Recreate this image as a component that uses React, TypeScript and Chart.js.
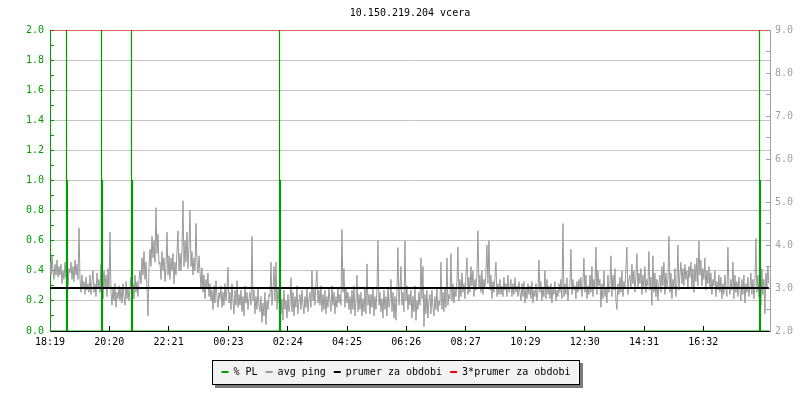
import React, { useEffect, useRef } from "react";
import { Chart, registerables } from "chart.js";

Chart.register(...registerables);

const TITLE = "10.150.219.204 vcera";
const MONO = "'DejaVu Sans Mono', monospace";

// x axis: minutes since 18:19
const X_MAX_MIN = 1469;
const xTickMinutes = [0, 121, 242, 364, 485, 606, 727, 848, 970, 1091, 1212, 1333];
const xTickLabels = ["18:19", "20:20", "22:21", "00:23", "02:24", "04:25", "06:26", "08:27", "10:29", "12:30", "14:31", "16:32"];

// avg ping [ms] (right axis), one sample every SAMPLE_STEP minutes
const SAMPLE_STEP = 2.04;
const avgPing = [
  3.6, 3.3, 3.75, 3.4, 3.2, 3.55, 3.3, 3.65, 3.25, 3.5,
  3.3, 3.55, 3.1, 3.4, 3.2, 3.6, 3.25, 3.5, 3.05, 3.45,
  3.35, 3.6, 3.2, 3.5, 3.15, 3.65, 3.3, 3.55, 3.2, 4.4,
  3.2, 2.9, 3.3, 3.0, 3.15, 2.85, 3.25, 2.95, 3.1, 2.9,
  3.3, 2.85, 3.15, 3.4, 2.9, 3.1, 2.8, 3.35, 3.0, 3.2,
  2.9, 3.55, 3.1, 2.75, 3.4, 3.0, 3.3, 2.8, 3.45, 3.0,
  4.3, 2.9, 2.6, 3.0, 2.7, 3.1, 2.55, 2.9, 2.75, 3.05,
  2.7, 3.0, 2.65, 3.1, 2.8, 2.6, 3.15, 2.75, 3.0, 2.7,
  3.0, 3.25, 2.8, 3.1, 2.75, 3.3, 2.9, 3.15, 2.8, 3.2,
  3.4, 3.1, 3.7, 3.3, 3.85, 3.2, 3.6, 3.0, 2.35, 3.5,
  3.9, 3.5, 4.2, 3.7, 4.1, 3.6, 4.87, 3.8, 4.25, 3.55,
  3.6, 3.2, 3.85, 3.4, 3.7, 3.15, 3.5, 4.3, 3.3, 3.75,
  3.2, 3.7, 3.4, 3.8, 3.1, 3.6, 3.3, 3.85, 4.33, 3.4,
  3.8, 3.4, 3.9, 5.03, 3.5, 4.1, 3.6, 4.3, 3.45, 3.95,
  4.8, 3.5, 3.85, 3.3, 3.7, 3.4, 4.5, 3.6, 3.35, 3.75,
  3.4, 3.0, 3.47, 2.9, 3.3, 2.75, 3.2, 3.0, 3.35, 2.8,
  3.1, 2.7, 2.95, 2.5, 3.05, 2.65, 3.17, 2.8, 2.55, 2.9,
  2.75, 3.05, 2.55, 2.9, 2.6, 3.1, 2.7, 2.95, 3.48, 2.65,
  2.9, 2.5, 3.1, 2.7, 2.4, 2.95, 2.6, 3.17, 2.55, 2.85,
  2.6, 2.95, 2.45, 2.8, 2.35, 3.05, 2.65, 2.9, 2.5, 2.75,
  2.9, 2.6, 4.2, 2.7, 2.95, 2.4, 2.8, 2.5, 3.0, 2.6,
  2.45, 2.8, 2.2, 2.65, 2.35, 2.9, 2.15, 2.7, 2.5, 2.85,
  2.8, 3.6, 2.6, 2.95, 3.5, 2.7, 3.6, 2.5, 3.0, 2.65,
  2.9, 2.4, 2.75, 2.25, 2.95, 2.5, 2.7, 2.3, 2.85, 2.45,
  2.6, 3.24, 2.45, 2.9, 2.35, 2.8, 2.55, 3.05, 2.4, 2.7,
  2.85, 2.5, 2.95, 2.6, 2.4, 2.8, 2.55, 3.0, 2.45, 2.75,
  2.9, 2.55, 3.4, 2.7, 3.0, 2.6, 3.1, 3.4, 2.65, 2.95,
  2.6, 3.05, 2.45, 2.85, 2.5, 2.95, 2.4, 2.8, 2.55, 3.0,
  2.7, 2.45, 3.05, 2.6, 2.9, 2.4, 2.8, 2.55, 3.0, 2.65,
  2.85, 2.6, 4.36, 2.9, 3.45, 2.55, 3.0, 2.65, 2.9, 2.5,
  2.8, 2.4, 2.95, 2.5, 3.05, 2.35, 2.7, 3.3, 2.45, 2.85,
  2.5, 2.9, 2.35, 2.75, 2.45, 3.0, 2.4, 3.56, 2.6, 2.85,
  2.4, 2.85, 2.55, 3.0, 2.35, 2.8, 2.5, 2.95, 4.1, 2.6,
  2.9, 2.45, 2.75, 2.3, 2.95, 2.5, 2.8, 2.35, 3.0, 2.55,
  2.7, 3.2, 2.45, 2.9, 2.3, 2.8, 2.25, 2.95, 3.94, 2.6,
  3.0, 3.5, 2.6, 2.9, 2.45, 4.1, 2.7, 3.05, 2.5, 2.85,
  2.6, 2.95, 2.3, 2.8, 2.45, 3.05, 2.25, 2.7, 2.5, 2.9,
  2.6, 3.7, 2.75, 3.5, 2.1, 2.85, 2.4, 2.95, 2.3, 2.7,
  2.85, 2.4, 2.95, 2.55, 2.35, 2.8, 2.5, 3.0, 2.45, 2.7,
  2.6, 3.6, 2.5, 2.9, 2.45, 3.0, 2.55, 3.7, 2.6, 2.85,
  2.75, 3.8, 2.7, 3.1, 2.65, 3.0, 2.8, 3.15, 3.95, 2.7,
  3.2, 2.8, 3.35, 2.9, 3.1, 2.75, 3.3, 3.7, 2.85, 3.25,
  2.9, 3.5, 3.05, 3.4, 2.8, 3.2, 2.95, 3.35, 4.33, 3.0,
  3.3, 2.9, 3.4, 2.85, 3.2, 3.0, 3.35, 4.0, 3.1, 4.1,
  2.95, 3.3, 2.75, 3.15, 2.9, 3.25, 3.6, 2.8, 3.1, 2.85,
  3.2, 2.85, 3.05, 2.8, 3.25, 2.95, 3.1, 2.8, 3.3, 2.9,
  3.0, 3.2, 2.8, 3.1, 2.85, 3.24, 2.9, 3.05, 2.8, 3.15,
  2.9, 2.7, 3.1, 2.8, 3.15, 2.65, 3.0, 2.75, 3.1, 2.85,
  3.05, 2.75, 3.15, 2.65, 2.95, 2.8, 3.1, 2.7, 2.9, 3.65,
  2.9, 3.15, 2.7, 3.0, 2.8, 3.4, 2.75, 3.2, 2.85, 3.05,
  2.75, 3.1, 2.65, 3.0, 2.85, 3.15, 2.7, 2.95, 2.8, 3.1,
  2.9, 3.2, 2.75, 4.5, 2.8, 3.1, 2.85, 3.24, 2.7, 3.0,
  3.1, 3.9, 2.85, 3.2, 2.95, 3.05, 2.75, 3.15, 2.9, 3.2,
  2.95, 3.25, 2.8, 3.1, 3.7, 2.9, 3.3, 2.75, 3.05, 2.85,
  3.3, 2.9, 3.5, 2.8, 3.2, 3.0, 3.95, 2.85, 3.4, 3.05,
  3.2, 2.55, 3.1, 2.75, 3.4, 2.8, 3.0, 2.65, 3.3, 2.9,
  3.05, 3.75, 2.8, 3.3, 2.95, 3.45, 2.7, 2.5, 3.1, 2.85,
  3.25, 2.9, 3.4, 2.8, 3.15, 3.0, 3.45, 3.95, 2.85, 3.2,
  3.3, 3.0, 3.55, 3.1, 3.4, 2.9, 3.25, 3.8, 3.0, 3.35,
  3.1, 3.45, 2.85, 3.3, 3.0, 3.5, 2.9, 3.2, 3.05, 3.85,
  2.95, 3.25, 2.6, 3.75, 2.9, 3.35, 2.8, 3.2, 2.7, 3.1,
  3.3, 2.9, 3.5, 3.05, 3.6, 2.85, 3.35, 3.0, 3.2, 4.2,
  2.9, 3.35, 2.75, 3.2, 3.0, 3.45, 2.8, 3.1, 4.0, 2.95,
  3.3, 3.6, 3.1, 3.45, 3.05, 3.55, 3.2, 3.4, 3.0, 3.5,
  3.25, 3.6, 3.0, 3.45, 2.9, 3.55, 3.15, 3.7, 3.05, 4.1,
  3.3, 3.65, 3.05, 3.45, 3.2, 3.7, 2.95, 3.4, 3.1, 3.5,
  3.0, 3.35, 2.85, 3.2, 3.05, 3.4, 2.8, 3.15, 2.95, 3.3,
  2.9, 3.25, 2.75, 3.1, 2.85, 3.3, 3.0, 2.8, 3.95, 3.05,
  2.85, 3.2, 2.95, 3.6, 2.75, 3.3, 2.9, 3.15, 2.8, 3.25,
  3.0, 2.7, 3.2, 2.85, 3.3, 2.65, 3.1, 2.9, 3.25, 2.8,
  3.05, 3.35, 2.85, 3.2, 2.75, 3.1, 4.15, 2.9, 3.3, 2.8,
  3.0, 2.6, 3.45, 2.85, 3.2, 2.4, 3.35, 3.0, 3.5, 3.1,
];

// packet loss [%] (left axis), sparse samples around the loss events
const plTime = [
  0,
  33.66, 33.66, 33.66, 35.7, 35.7,
  105.07, 105.07, 105.07, 107.11, 107.11,
  166.28, 166.28, 166.28, 168.32, 168.32,
  468.24, 468.24, 468.24, 470.28, 470.28,
  1447.6, 1447.6, 1447.6, 1449.6, 1449.6,
  1467.0,
];
const plValue = [
  0,
  0, 3, 1, 1, 0,
  0, 3, 1, 1, 0,
  0, 3, 1, 1, 0,
  0, 3, 1, 1, 0,
  0, 3, 1, 1, 0,
  0,
];

const meanPing = 3.0; // prumer za obdobi [ms]
const tripleMeanPing = 9.0; // 3*prumer [ms]

const GREEN = "#009c00";
const GRAY = "#999999";
const AXIS_GRAY = "#a0a0a0";
const GRID = "#c4c4c4";
const RED = "#ff0000";

const legendNames = ["% PL", "avg ping", "prumer za obdobi", "3*prumer za obdobi"];
const legendColors = [GREEN, GRAY, "#000000", RED];

const legendBoxPlugin = {
  id: "legendBox",
  afterLayout(chart: any) {
    const l = chart.legend;
    if (l) {
      l.left -= 4;
      l.right -= 4;
    }
  },
  beforeDraw(chart: any) {
    const l = chart.legend;
    const hb = l && l.legendHitBoxes;
    if (!hb || !hb.length) return;
    const first = hb[0];
    const last = hb[hb.length - 1];
    const left = Math.round(first.left - 10);
    const right = Math.round(last.left + last.width + 10);
    const top = Math.round(first.top - 7);
    const bottom = Math.round(first.top + first.height + 8);
    const w = right - left;
    const h = bottom - top;
    const ctx = chart.ctx;
    ctx.save();
    ctx.fillStyle = "#7a7a7a";
    ctx.fillRect(left + 3, top + 3, w, h);
    ctx.fillStyle = "#f2f2f2";
    ctx.fillRect(left, top, w, h);
    ctx.strokeStyle = "#000000";
    ctx.lineWidth = 1;
    ctx.strokeRect(left + 0.5, top + 0.5, w - 1, h - 1);
    ctx.restore();
  },
};

export default function App() {
  const ref = useRef<HTMLCanvasElement>(null);

  useEffect(() => {
    document.body.style.margin = "0";
    const lastT = (avgPing.length - 1) * SAMPLE_STEP;
    const pingData = avgPing.map((v, i) => ({ x: i * SAMPLE_STEP, y: v }));
    const plData = plTime.map((t, i) => ({ x: t, y: plValue[i] }));

    const chart = new Chart(ref.current as HTMLCanvasElement, {
      type: "line",
      data: {
        datasets: [
          {
            label: legendNames[0],
            data: plData,
            yAxisID: "y",
            borderColor: GREEN,
            borderWidth: 1.2,
            pointRadius: 0,
            order: 2,
          },
          {
            label: legendNames[1],
            data: pingData,
            yAxisID: "y1",
            borderColor: GRAY,
            borderWidth: 1,
            pointRadius: 0,
            order: 3,
          },
          {
            label: legendNames[2],
            data: [
              { x: 0, y: meanPing },
              { x: lastT, y: meanPing },
            ],
            yAxisID: "y1",
            borderColor: "#000000",
            borderWidth: 2,
            pointRadius: 0,
            order: 1,
          },
          {
            label: legendNames[3],
            data: [
              { x: 0, y: tripleMeanPing },
              { x: lastT, y: tripleMeanPing },
            ],
            yAxisID: "y1",
            borderColor: RED,
            borderWidth: 1,
            pointRadius: 0,
            order: 0,
          },
        ],
      },
      options: {
        responsive: false,
        animation: false,
        devicePixelRatio: 1,
        layout: { padding: { left: 0, right: 0, top: 0, bottom: 13 } },
        elements: { line: { tension: 0 } },
        plugins: {
          title: {
            display: true,
            text: TITLE,
            fullSize: false,
            color: "#000000",
            font: { family: MONO, size: 10, weight: "normal" },
            padding: { top: 7, bottom: 11 },
          },
          legend: {
            display: true,
            position: "bottom",
            labels: {
              color: "#000000",
              font: { family: MONO, size: 10 },
              boxWidth: 7,
              boxHeight: 2,
              padding: 8,
              generateLabels: () =>
                legendNames.map((name, i) => ({
                  text: name,
                  fillStyle: legendColors[i],
                  strokeStyle: legendColors[i],
                  lineWidth: 0,
                  hidden: false,
                  datasetIndex: i,
                  fontColor: "#000000",
                })),
            },
          },
          tooltip: { enabled: false },
        },
        scales: {
          x: {
            type: "linear",
            min: 0,
            max: X_MAX_MIN,
            afterBuildTicks: (scale: any) => {
              scale.ticks = xTickMinutes.map((v) => ({ value: v }));
            },
            afterFit: (scale: any) => {
              scale.height = 28;
            },
            ticks: {
              autoSkip: false,
              maxRotation: 0,
              color: "#000000",
              font: { family: MONO, size: 10 },
              padding: 10,
              callback: (_v: any, i: number) => xTickLabels[i],
            },
            grid: {
              drawOnChartArea: false,
              drawTicks: true,
              tickLength: -5,
              tickColor: "#000000",
              tickWidth: 1,
            },
            border: { color: "#000000", width: 1 },
          },
          y: {
            type: "linear",
            position: "left",
            min: 0,
            max: 2,
            afterFit: (scale: any) => {
              scale.width = 50;
            },
            ticks: {
              stepSize: 0.1,
              autoSkip: false,
              color: GREEN,
              font: { family: MONO, size: 10 },
              padding: 10,
              callback: (v: any, i: number) => (i % 2 === 0 ? Number(v).toFixed(1) : ""),
            },
            grid: {
              color: (ctx: any) => (ctx.index % 2 === 0 ? GRID : "rgba(0,0,0,0)"),
              tickColor: GREEN,
              tickLength: -4,
              lineWidth: 1,
            },
            border: { color: GREEN, width: 1 },
          },
          y1: {
            type: "linear",
            position: "right",
            min: 2,
            max: 9,
            afterFit: (scale: any) => {
              scale.width = 30;
            },
            ticks: {
              stepSize: 0.5,
              autoSkip: false,
              color: AXIS_GRAY,
              font: { family: MONO, size: 10 },
              padding: 9,
              callback: (v: any, i: number) => (i % 2 === 0 ? Number(v).toFixed(1) : ""),
            },
            grid: {
              drawOnChartArea: false,
              tickColor: AXIS_GRAY,
              tickLength: -4,
            },
            border: { color: AXIS_GRAY, width: 1 },
          },
        },
      },
      plugins: [legendBoxPlugin],
    } as any);

    return () => chart.destroy();
  }, []);

  return (
    <div style={{ width: 800, height: 400 }}>
      <canvas ref={ref} width={800} height={400} style={{ display: "block" }} />
    </div>
  );
}
